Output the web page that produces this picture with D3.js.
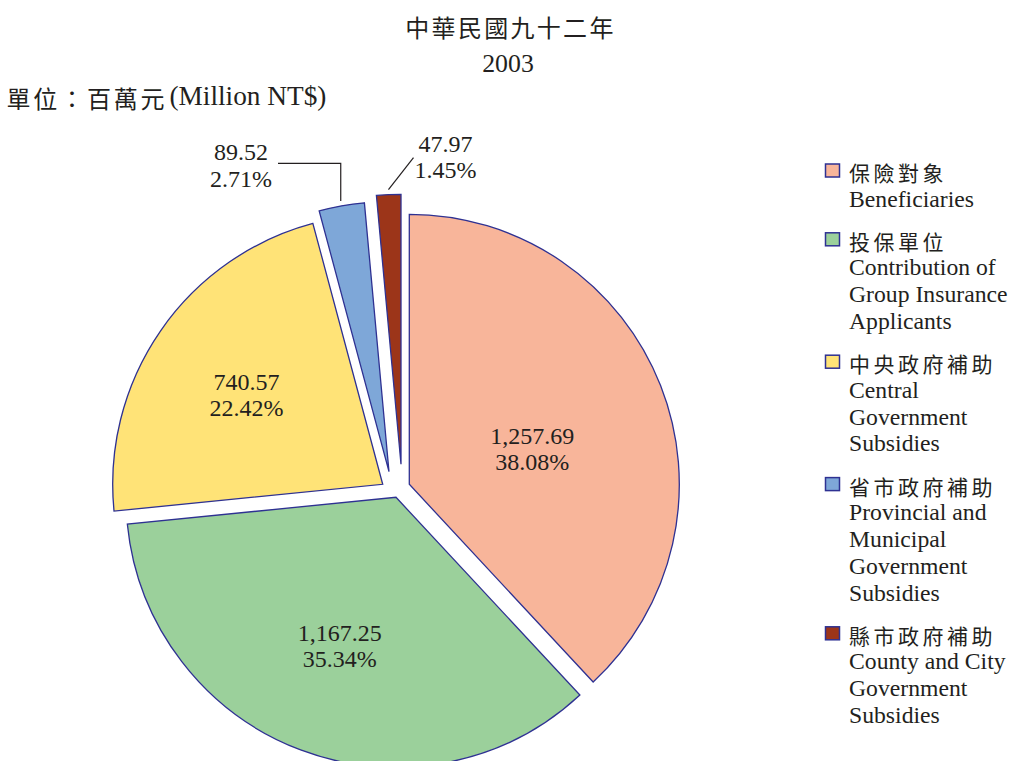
<!DOCTYPE html>
<html>
<head>
<meta charset="utf-8">
<script src="https://cdn.jsdelivr.net/npm/d3@7"></script>
<style>
  body { margin: 0; background: #fff; }
  svg { display: block; }
  text { fill: #231f20; }
</style>
</head>
<body>
<script>
// chart data
var categoriesZh = ["保險對象", "投保單位", "中央政府補助", "省市政府補助", "縣市政府補助"];
var categoriesEn = [
  ["Beneficiaries"],
  ["Contribution of", "Group Insurance", "Applicants"],
  ["Central", "Government", "Subsidies"],
  ["Provincial and", "Municipal", "Government", "Subsidies"],
  ["County and City", "Government", "Subsidies"]
];
var values = [1257.69, 1167.25, 740.57, 89.52, 47.97];
var colors = ["#f8b59a", "#9bd09b", "#ffe377", "#7ea7d8", "#9c3519"];

var titleZh = "中華民國九十二年";
var titleYear = "2003";
var unitZh = "單位：百萬元";
var unitEn = "(Million NT$)";

// layout
var svgWidth = 1012;
var svgHeight = 761;
var center = [396, 484.3];
var radius = 270;
// how far each slice is pulled out of the pie
var explode = [[13.3, 0], [0, 13], [-13.3, 0], [-7, -12.6], [5, -20]];
var labelRadius = [132, 159, 162];
var labelNudge = [[0, 13], [0, 0], [-3, 3]];
var serif = "'Liberation Serif', 'Times New Roman', serif";
var cjk = "'Noto Sans CJK TC', 'Noto Sans CJK SC', sans-serif";

var svg = d3.select("body")
  .append("svg")
  .attr("width", svgWidth)
  .attr("height", svgHeight);

// multi line latin text, x/y = first baseline
function latin(parent, x, y, lines, size, anchor, lineH) {
  var t = parent.append("text")
    .attr("x", x)
    .attr("y", y)
    .attr("font-family", serif)
    .attr("font-size", size)
    .attr("text-anchor", anchor);
  lines.forEach(function(s, i) {
    t.append("tspan").attr("x", x).attr("dy", i ? lineH : 0).text(s);
  });
  return t;
}

function zh(parent, x, y, s, size, spacing, anchor) {
  return parent.append("text")
    .attr("x", x)
    .attr("y", y)
    .attr("font-family", cjk)
    .attr("font-size", size)
    .attr("letter-spacing", spacing)
    .attr("dominant-baseline", "central")
    .attr("text-anchor", anchor)
    .text(s);
}

// titles
zh(svg, 510.5, 26.5, titleZh, 24, 2.3, "middle");
latin(svg, 508, 71.5, [titleYear], 25.8, "middle", 0);
zh(svg, 6.5, 97, unitZh, 24, 2.8, "start");
latin(svg, 169.5, 105.3, [unitEn], 27.3, "start", 0);

// pie
var total = d3.sum(values);
var fmtValue = d3.format(",.2f");
var fmtPct = d3.format(".2%");

var arcs = d3.pie().sort(null).value(d => d)(values);
var arc = d3.arc().innerRadius(0).outerRadius(radius);

var slices = svg.selectAll(".slice")
  .data(arcs)
  .enter()
  .append("g")
  .attr("class", "slice")
  .attr("transform", (d, i) => `translate(${center[0] + explode[i][0]},${center[1] + explode[i][1]})`);

slices.append("path")
  .attr("d", arc)
  .attr("fill", (d, i) => colors[i])
  .attr("stroke", "#2e3192")
  .attr("stroke-width", 1.3)
  .attr("stroke-linejoin", "miter");

// labels inside the big slices
slices.filter((d, i) => i < 3).each(function(d, i) {
  var c = d3.arc().innerRadius(labelRadius[i]).outerRadius(labelRadius[i]).centroid(d);
  latin(d3.select(this), c[0] + labelNudge[i][0], c[1] + labelNudge[i][1] - 4.9,
    [fmtValue(d.value), fmtPct(d.value / total)], 24, "middle", 26);
});

// callouts for the two thin slices
var calloutPos = [[241, 165], [445.5, 156.5]];
arcs.slice(3).forEach(function(d, k) {
  var i = k + 3;
  var p = d3.arc().innerRadius(radius + 5).outerRadius(radius + 5).centroid(d);
  p = [p[0] + center[0] + explode[i][0], p[1] + center[1] + explode[i][1]];
  var lp = calloutPos[k];
  var pts = k === 0
    ? [p, [p[0], lp[1] - 1.7], [lp[0] + 37, lp[1] - 1.7]]
    : [p, [lp[0] - 32, lp[1] + 1.2]];
  svg.append("path")
    .attr("d", d3.line()(pts))
    .attr("fill", "none")
    .attr("stroke", "#231f20")
    .attr("stroke-width", 1.2);
  latin(svg, lp[0], lp[1] - 4.9,
    [fmtValue(d.value), fmtPct(d.value / total)], 24, "middle", 26.5);
});

// legend
var legend = svg.append("g");
var lineH = 26.8;
var y = 172;
categoriesZh.forEach(function(name, i) {
  legend.append("rect")
    .attr("x", 825.5)
    .attr("y", y - 8)
    .attr("width", 14)
    .attr("height", 13)
    .attr("fill", colors[i])
    .attr("stroke", "#2e3192")
    .attr("stroke-width", 1.5);
  zh(legend, 849, y, name, 21, 3.5, "start");
  latin(legend, 849, y + lineH + 7.8, categoriesEn[i], 23.7, "start", lineH);
  y += lineH * categoriesEn[i].length + 42;
});
</script>
</body>
</html>
